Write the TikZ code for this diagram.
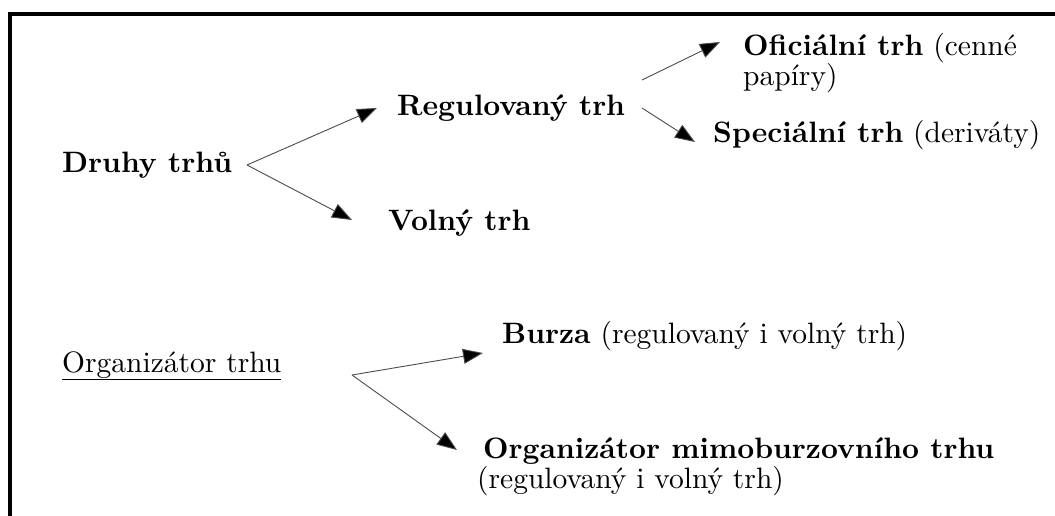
\documentclass[tikz,border=0pt]{standalone}
\usepackage{fontspec}
\setmainfont{lmroman10-regular.otf}[BoldFont=lmroman10-bold.otf]
\usetikzlibrary{positioning, arrows.meta}

\begin{document}
\begin{tikzpicture}[
    x=1pt, y=-1pt,
    font=\fontsize{29.5}{30}\selectfont,
    lbl/.style={inner sep=0pt, anchor=base west, align=left},
    arrow/.style={draw=black!70, line width=0.9pt, -{Triangle[length=20pt, width=15pt, fill=black]}},
    frame/.style={line width=4pt}
]
\useasboundingbox (0,0) rectangle (1055,515);

% Frame
\draw[frame] (1055,14) -- (10,14) -- (10,517);

% Druhy trhu
\node[lbl] (druhy) at (62,172) {\textbf{Druhy trhů}};
\node[lbl] (reg) at (397,115) {\textbf{Regulovaný trh}};
\node[lbl] (volny) at (388,230) {\textbf{Volný trh}};
\node[lbl] (ofic) at (743,85) {\textbf{Oficiální trh} (cenné\\papíry)};
\node[lbl] (spec) at (713,142) {\textbf{Speciální trh} (deriváty)};

\coordinate (druhyfork) at (247,165);
\coordinate (regforka) at (642,80);
\coordinate (regforkb) at (642,108);

\draw[arrow] (druhyfork) -- ([xshift=-20pt, yshift=7pt]reg.base west);
\draw[arrow] (druhyfork) -- ([xshift=-36pt, yshift=10pt]volny.base west);
\draw[arrow] (regforka) -- ([xshift=-23pt, yshift=43pt]ofic.base west);
\draw[arrow] (regforkb) -- ([xshift=-18pt, yshift=0pt]spec.base west);

% Organizator trhu
\node[lbl] (org) at (62,372) {\underline{Organizátor trhu}};
\node[lbl] (burza) at (502,343) {\textbf{Burza} (regulovaný i volný trh)};
\node[lbl] (mimo) at (483,488) {\textbf{Organizátor mimoburzovního trhu}\\\hspace*{-6pt}(regulovaný i volný trh)};

\coordinate (orgfork) at (352,375);

\draw[arrow] (orgfork) -- ([xshift=-19pt, yshift=-10pt]burza.base west);
\draw[arrow] (orgfork) -- ([xshift=-26pt, yshift=38pt]mimo.base west);

\end{tikzpicture}
\end{document}
